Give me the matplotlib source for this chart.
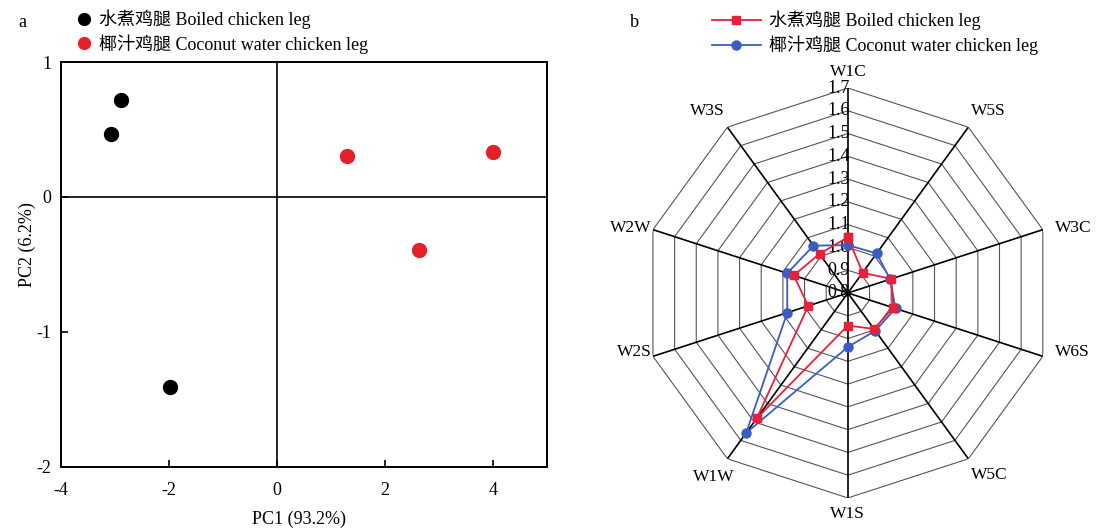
import numpy as np
import matplotlib
matplotlib.use('Agg')
import matplotlib.pyplot as plt
from matplotlib.lines import Line2D

plt.rcParams['font.family'] = ['Liberation Serif', 'Noto Sans CJK SC']
plt.rcParams['axes.unicode_minus'] = False

# PCA scores
boiled_pc1 = [-2.89, -3.07, -1.98]
boiled_pc2 = [0.72, 0.47, -1.41]
coconut_pc1 = [1.30, 4.00, 2.63]
coconut_pc2 = [0.30, 0.33, -0.39]

# radar sensor responses
sensors = ['W1C', 'W5S', 'W3C', 'W6S', 'W5C', 'W1S', 'W1W', 'W2S', 'W2W', 'W3S']
boiled_resp = [1.045, 0.91, 1.00, 1.01, 0.995, 0.943, 1.48, 0.983, 1.05, 1.012]
coconut_resp = [1.01, 1.015, 0.995, 1.02, 1.005, 1.037, 1.56, 1.08, 1.08, 1.057]
rings = [0.9, 1.0, 1.1, 1.2, 1.3, 1.4, 1.5, 1.6, 1.7]
ring_labels = ['0.8', '0.9', '1.0', '1.1', '1.2', '1.3', '1.4', '1.5', '1.6', '1.7']

name_boiled = '水煮鸡腿 Boiled chicken leg'
name_coconut = '椰汁鸡腿 Coconut water chicken leg'

red = '#e4202a'
fig = plt.figure(figsize=(10.99, 5.30), dpi=100)

# ---- a: PCA ----
ax = fig.add_axes([0.0555, 0.119, 0.4422, 0.764])
ax.scatter(boiled_pc1, boiled_pc2, s=100, color='black', zorder=3)
ax.scatter(coconut_pc1, coconut_pc2, s=100, color=red, zorder=3)
ax.axhline(0, color='black', lw=1.2)
ax.axvline(0, color='black', lw=1.2)
ax.set_xlim(-4, 5)
ax.set_ylim(-2, 1)
ax.set_xticks([-4, -2, 0, 2, 4])
ax.set_yticks([-2, -1, 0, 1])
ax.tick_params(direction='in', length=5, width=1.2, labelsize=13, colors='black')
ax.tick_params(axis='x', pad=11)
ax.tick_params(axis='y', pad=7)
for s in ax.spines.values():
    s.set_linewidth(1.4)
ax.set_xlabel('PC1 (93.2%)', fontsize=13)
ax.xaxis.set_label_coords(0.49, -0.108)
ax.set_ylabel('PC2 (6.2%)', fontsize=13)
ax.yaxis.set_label_coords(-0.052, 0.548)

h1 = Line2D([], [], marker='o', color='black', ls='none', markersize=8.5)
h2 = Line2D([], [], marker='o', color=red, ls='none', markersize=8.5)
fig.legend([h1, h2], [name_boiled, name_coconut], loc='upper left',
           bbox_to_anchor=(0.062, 1.003), frameon=False, fontsize=13,
           handlelength=0.6, handletextpad=0.5, labelspacing=0.3,
           borderaxespad=0.2)
fig.text(0.017, 0.957, 'a', fontsize=13, va='center')

# ---- b: radar ----
n = len(sensors)
theta = np.linspace(0, 2 * np.pi, n, endpoint=False)
theta_c = np.append(theta, theta[0])

rx = fig.add_axes([0.585, 0.0604, 0.373, 0.7736], projection='polar')
rx.set_theta_zero_location('N')
rx.set_theta_direction(-1)
rx.set_ylim(0.8, 1.7)
rx.grid(False)
rx.set_xticks([])
rx.set_yticks([])
rx.spines['polar'].set_visible(False)
rx.patch.set_alpha(0)

for r in rings:
    rx.plot(theta_c, [r] * (n + 1), color='#555555', lw=0.8, zorder=1)
for t in theta:
    rx.plot([t, t], [0.8, 1.7], color='black', lw=1.2, zorder=1)

for i, lab in enumerate(ring_labels):
    rx.annotate(lab, xy=(0, 0.8 + 0.1 * i), xytext=(1.5, 0),
                textcoords='offset points', ha='right', va='center',
                fontsize=13, zorder=2)

for t, lab in zip(theta, sensors):
    s, c = np.sin(t), np.cos(t)
    ha = 'left' if s > 0.1 else ('right' if s < -0.1 else 'center')
    va = 'bottom' if c > 0.5 else ('top' if c < -0.5 else 'center')
    if abs(c) > 0.5:
        off = (2 * np.sign(s) if abs(s) > 0.1 else 0, 6 * np.sign(c))
        if s < -0.1 and c < 0:
            off = (5, -7)
    else:
        off = (9 * np.sign(s) if s > 0 else 1 * np.sign(s), -3 * np.sign(c) if c < 0 else 1)
    rx.annotate(lab, xy=(t, 1.7), xytext=off, textcoords='offset points',
                ha=ha, va=va, fontsize=12.5, annotation_clip=False)

b_c = boiled_resp + boiled_resp[:1]
c_c = coconut_resp + coconut_resp[:1]
rx.plot(theta_c, b_c, color='#e8203a', lw=1.3, marker='s', markersize=6,
        zorder=4, clip_on=False)
rx.plot(theta_c, c_c, color='#3b5cc4', lw=1.3, marker='o', markersize=6.5,
        zorder=3, clip_on=False)

l1 = Line2D([], [], color='#e8203a', lw=1.3, marker='s', markersize=6)
l2 = Line2D([], [], color='#3b5cc4', lw=1.3, marker='o', markersize=6.5)
fig.legend([l1, l2], [name_boiled, name_coconut], loc='upper left',
           bbox_to_anchor=(0.638, 1.001), frameon=False, fontsize=13,
           handlelength=2.7, handletextpad=0.45, labelspacing=0.3,
           borderaxespad=0.2)
fig.text(0.573, 0.957, 'b', fontsize=13, va='center')

fig.savefig('out.png', dpi=100)
